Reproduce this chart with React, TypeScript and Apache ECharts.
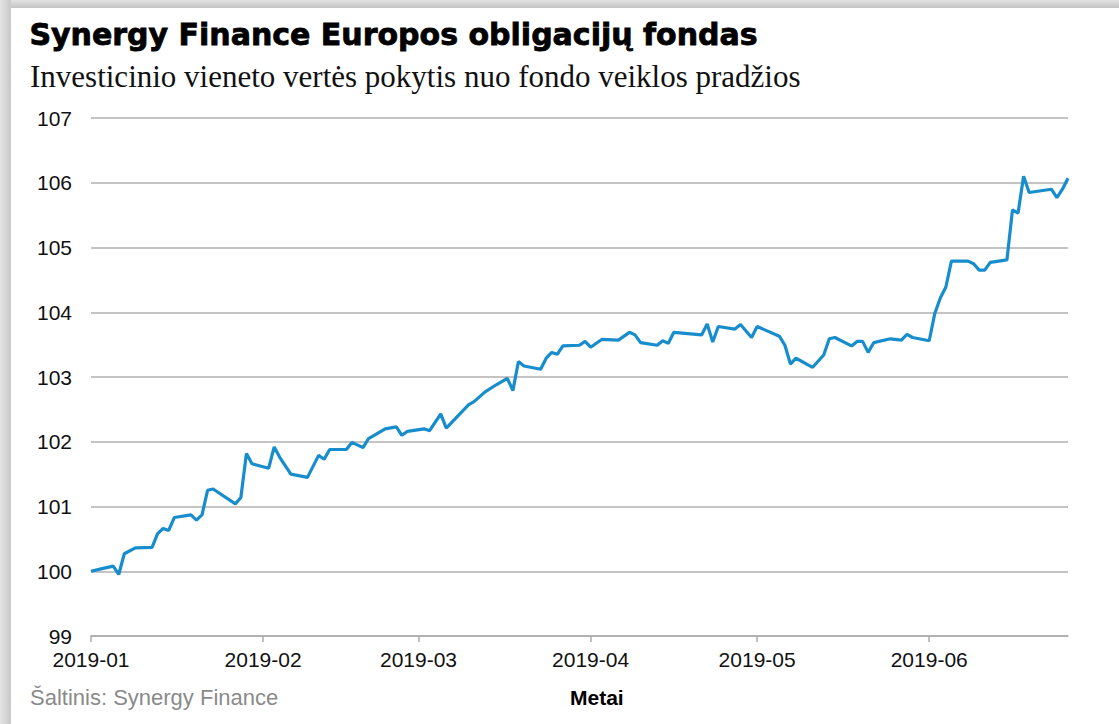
import React, { useEffect, useRef } from "react";
import * as echarts from "echarts";

const titleText = "Synergy Finance Europos obligacijų fondas";
const subtitleText = "Investicinio vieneto vertės pokytis nuo fondo veiklos pradžios";
const sourceText = "Šaltinis: Synergy Finance";
const xAxisName = "Metai";

const dates: string[] = [
  "2019-01-01", "2019-01-03", "2019-01-05", "2019-01-06", "2019-01-07", "2019-01-09", "2019-01-12", "2019-01-13",
  "2019-01-14", "2019-01-15", "2019-01-16", "2019-01-19", "2019-01-20", "2019-01-21", "2019-01-22", "2019-01-23",
  "2019-01-27", "2019-01-28", "2019-01-29", "2019-01-30", "2019-02-02", "2019-02-03", "2019-02-04", "2019-02-06",
  "2019-02-09", "2019-02-11", "2019-02-12", "2019-02-13", "2019-02-16", "2019-02-17", "2019-02-19", "2019-02-20",
  "2019-02-23", "2019-02-25", "2019-02-26", "2019-02-27", "2019-03-02", "2019-03-03", "2019-03-05", "2019-03-06",
  "2019-03-10", "2019-03-11", "2019-03-13", "2019-03-15", "2019-03-17", "2019-03-18", "2019-03-19", "2019-03-20",
  "2019-03-23", "2019-03-24", "2019-03-25", "2019-03-26", "2019-03-27", "2019-03-30", "2019-03-31", "2019-04-01",
  "2019-04-03", "2019-04-06", "2019-04-08", "2019-04-09", "2019-04-10", "2019-04-13", "2019-04-14", "2019-04-15",
  "2019-04-16", "2019-04-21", "2019-04-22", "2019-04-23", "2019-04-24", "2019-04-27", "2019-04-28", "2019-04-30",
  "2019-05-01", "2019-05-05", "2019-05-06", "2019-05-07", "2019-05-08", "2019-05-11", "2019-05-13", "2019-05-14",
  "2019-05-15", "2019-05-18", "2019-05-19", "2019-05-20", "2019-05-21", "2019-05-22", "2019-05-25", "2019-05-27",
  "2019-05-28", "2019-05-29", "2019-06-01", "2019-06-02", "2019-06-03", "2019-06-04", "2019-06-05", "2019-06-08",
  "2019-06-09", "2019-06-10", "2019-06-11", "2019-06-12", "2019-06-15", "2019-06-16", "2019-06-17", "2019-06-18",
  "2019-06-19", "2019-06-23", "2019-06-24", "2019-06-25", "2019-06-26",
];

const values: number[] = [
  100.0, 100.04, 100.08, 99.95, 100.27, 100.36, 100.37, 100.58,
  100.66, 100.63, 100.83, 100.87, 100.79, 100.87, 101.25, 101.27,
  101.04, 101.14, 101.82, 101.66, 101.59, 101.92, 101.76, 101.5,
  101.45, 101.79, 101.73, 101.88, 101.88, 101.99, 101.91, 102.05,
  102.2, 102.23, 102.1, 102.16, 102.2, 102.17, 102.43, 102.21,
  102.57, 102.62, 102.77, 102.88, 102.98, 102.79, 103.24, 103.17,
  103.12, 103.29, 103.38, 103.35, 103.48, 103.49, 103.55, 103.46,
  103.58, 103.57, 103.69, 103.65, 103.53, 103.49, 103.56, 103.52,
  103.69, 103.65, 103.82, 103.54, 103.78, 103.74, 103.81, 103.61,
  103.78, 103.63, 103.49, 103.2, 103.29, 103.15, 103.34, 103.59,
  103.61, 103.48, 103.55, 103.55, 103.38, 103.53, 103.59, 103.57,
  103.66, 103.61, 103.56, 103.98, 104.22, 104.39, 104.79, 104.79,
  104.75, 104.65, 104.65, 104.77, 104.81, 105.58, 105.53, 106.1,
  105.85, 105.9, 105.77, 105.9, 106.07,
];

const monthTicks: string[] = ["2019-01-01", "2019-02-01", "2019-03-01", "2019-04-01", "2019-05-01", "2019-06-01"];
const xMin = "2019-01-01";
const xMax = "2019-06-26";
const yMin = 99;
const yMax = 107;
const yStep = 1;

function ts(s: string): number {
  const [y, m, d] = s.split("-").map(Number);
  return new Date(y, m - 1, d).getTime();
}

export default function App() {
  const ref = useRef<HTMLDivElement>(null);
  useEffect(() => {
    if (!ref.current) return;
    const chart = echarts.init(ref.current, null, { renderer: "svg" });
    const tickVals = monthTicks.map(ts);
    chart.setOption({
      animation: false,
      backgroundColor: "#ffffff",
      textStyle: { fontFamily: "Liberation Sans, Arial, sans-serif" },
      grid: { left: 91, right: 51, top: 118, bottom: 88, containLabel: false },
      xAxis: {
        type: "value",
        min: ts(xMin),
        max: ts(xMax),
        scale: true,
        axisLine: { show: true, onZero: false, lineStyle: { color: "#ababab", width: 1.5 } },
        axisTick: { show: true, length: 6, customValues: tickVals, lineStyle: { color: "#ababab", width: 1.5 } },
        axisLabel: {
          customValues: tickVals,
          color: "#111",
          fontSize: 21,
          margin: 13,
          hideOverlap: false,
          showMinLabel: true,
          showMaxLabel: true,
          formatter: (v: number) => {
            const d = new Date(v);
            return `${d.getFullYear()}-${String(d.getMonth() + 1).padStart(2, "0")}`;
          },
        },
        splitLine: { show: false },
      },
      yAxis: {
        type: "value",
        min: yMin,
        max: yMax,
        interval: yStep,
        axisLine: { show: false },
        axisTick: { show: false },
        axisLabel: { color: "#111", fontSize: 21, margin: 19 },
        splitLine: { show: true, lineStyle: { color: "#b0b0b0", width: 1.5 } },
      },
      series: [
        {
          type: "line",
          data: dates.map((d, i) => [ts(d), values[i]]),
          showSymbol: false,
          symbol: "none",
          lineStyle: { color: "#188dcd", width: 3.2 },
          itemStyle: { color: "#188dcd" },
        },
      ],
      graphic: [
        {
          type: "rect",
          left: 0,
          top: 0,
          shape: { width: 1119, height: 8 },
          style: {
            fill: new echarts.graphic.LinearGradient(0, 0, 0, 1, [
              { offset: 0, color: "#e4e4e4" },
              { offset: 1, color: "#c4c4c4" },
            ]),
          },
          silent: true,
        },
        {
          type: "rect",
          left: 0,
          top: 0,
          shape: { width: 11, height: 724 },
          style: {
            fill: new echarts.graphic.LinearGradient(0, 0, 1, 0, [
              { offset: 0, color: "#e4e4e4" },
              { offset: 1, color: "#c8c8c8" },
            ]),
          },
          silent: true,
        },
        {
          type: "text",
          left: 29,
          top: 19,
          style: {
            text: titleText,
            font: "bold 30px 'DejaVu Sans', Arial, sans-serif",
            fill: "#000",
            stroke: "#000",
            lineWidth: 0.8,
          },
        },
        {
          type: "text",
          left: 30,
          top: 61,
          style: {
            text: subtitleText,
            font: "31px 'Liberation Serif', 'Times New Roman', serif",
            fill: "#111",
          },
        },
        {
          type: "text",
          left: 30,
          top: 686,
          style: {
            text: sourceText,
            font: "22px 'Liberation Sans', Arial, sans-serif",
            fill: "#8a8a8a",
          },
        },
        {
          type: "text",
          left: 570,
          top: 687,
          style: {
            text: xAxisName,
            font: "bold 21px 'Liberation Sans', Arial, sans-serif",
            fill: "#000",
          },
        },
      ],
    });
    return () => chart.dispose();
  }, []);
  return <div ref={ref} style={{ position: "fixed", left: 0, top: 0, width: 1119, height: 724 }} />;
}
